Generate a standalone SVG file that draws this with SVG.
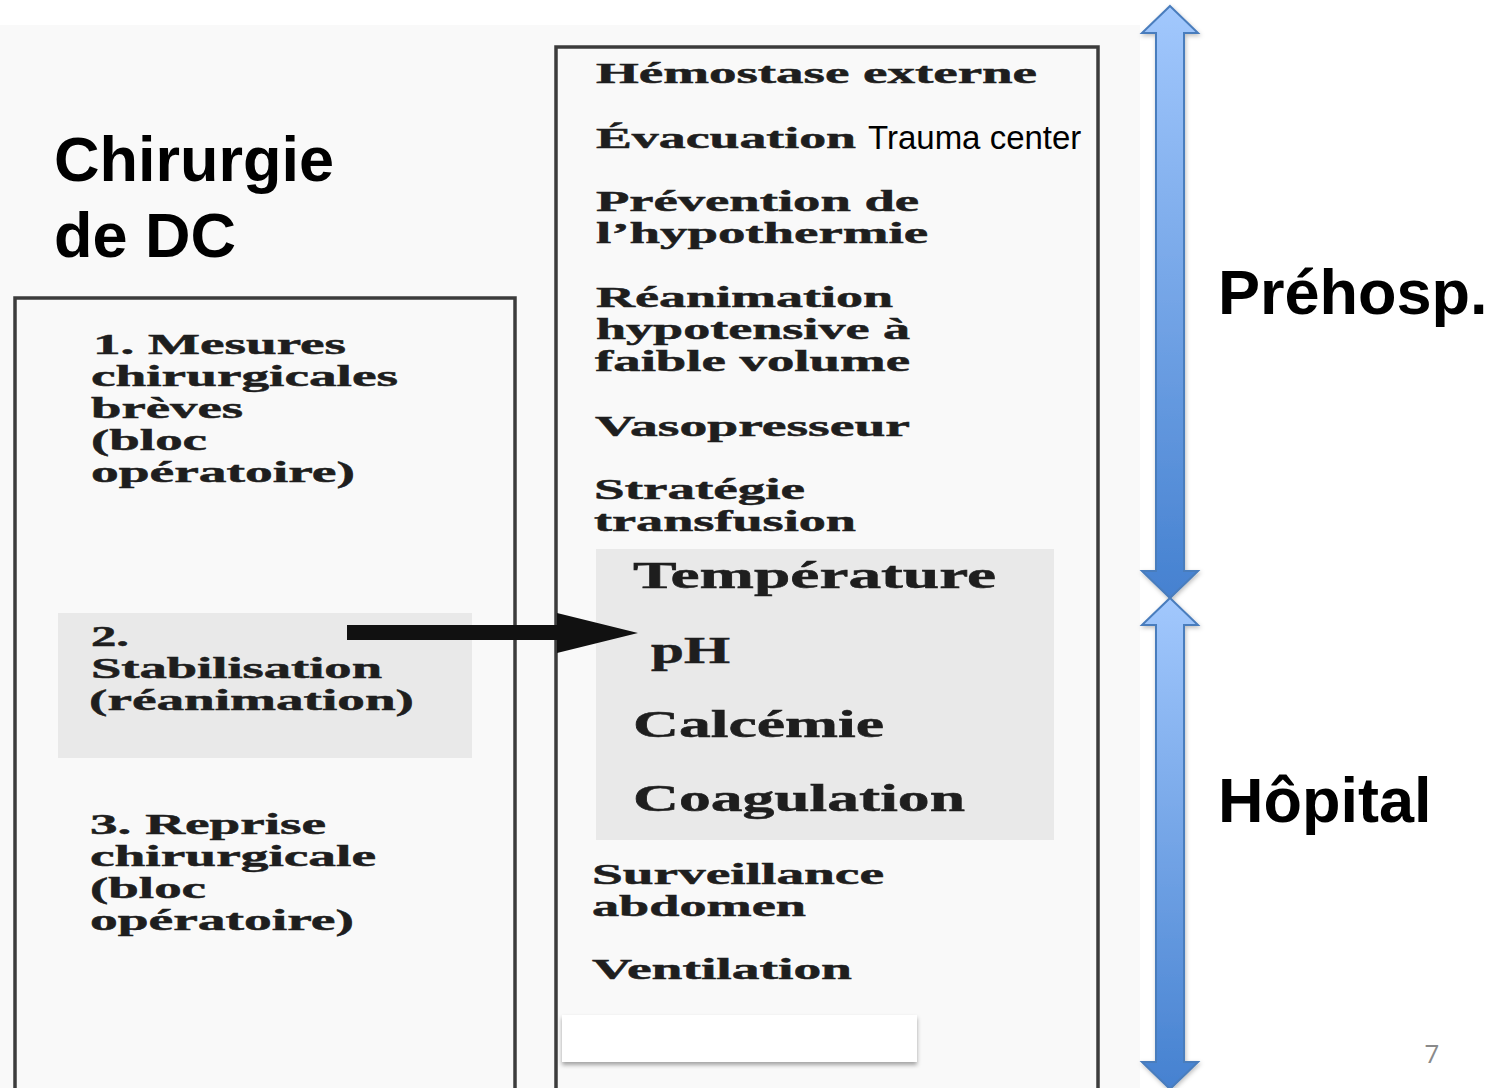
<svg xmlns="http://www.w3.org/2000/svg" width="1502" height="1088" viewBox="0 0 1502 1088">
<style>
.title{font-family:"Liberation Sans",Arial,sans-serif;font-weight:bold;font-size:63px;fill:#000}
.sans{font-family:"Liberation Sans",Arial,sans-serif;font-size:33px;fill:#000}
.s{font-family:"Liberation Serif","Times New Roman",serif;font-weight:bold;font-size:30px;fill:#1e1e1e;stroke:#1e1e1e;stroke-width:0.5}
.b{font-family:"Liberation Serif","Times New Roman",serif;font-weight:bold;font-size:37px;fill:#1e1e1e;stroke:#1e1e1e;stroke-width:0.5}
.box{fill:none;stroke:#3c3c3c;stroke-width:3.5}
.shade{fill:#e9e9e9}
.blue{stroke:#4a7dbd;stroke-width:2;fill:url(#g)}
.pg{font-family:"Open Sans","Liberation Sans",sans-serif;font-size:26px;fill:#8a8a8a}
</style>
<defs>
<linearGradient id="g" x1="0" y1="0" x2="0" y2="1">
<stop offset="0" stop-color="#a2c8fd"/>
<stop offset="1" stop-color="#4581d0"/>
</linearGradient>
<filter id="sh" x="-10%" y="-10%" width="120%" height="130%">
<feDropShadow dx="0" dy="3" stdDeviation="2" flood-color="#000" flood-opacity="0.35"/>
</filter>
<filter id="sh2" x="-30%" y="-5%" width="160%" height="110%">
<feDropShadow dx="1" dy="2" stdDeviation="2" flood-color="#000" flood-opacity="0.25"/>
</filter>
</defs>
<rect width="1502" height="1088" fill="#fff"/>
<rect x="0" y="25" width="1140" height="1063" fill="#f9f9f9"/>

<g id="titre">
<text class="title" x="54" y="181">Chirurgie</text>
<text class="title" x="54" y="257">de DC</text>
</g>

<g id="etapes">
<rect class="box" x="15" y="298" width="500" height="800"/>
<rect class="shade" x="58" y="613" width="414" height="145"/>
<g id="etape1">
<text class="s" x="93" y="354" textLength="253" lengthAdjust="spacingAndGlyphs">1. Mesures</text>
<text class="s" x="91" y="386" textLength="307" lengthAdjust="spacingAndGlyphs">chirurgicales</text>
<text class="s" x="91" y="418" textLength="152" lengthAdjust="spacingAndGlyphs">brèves</text>
<text class="s" x="91" y="450" textLength="116" lengthAdjust="spacingAndGlyphs">(bloc</text>
<text class="s" x="91" y="482" textLength="264" lengthAdjust="spacingAndGlyphs">opératoire)</text>
</g>
<g id="etape2">
<text class="s" x="91" y="646" textLength="38" lengthAdjust="spacingAndGlyphs">2.</text>
<text class="s" x="91" y="678" textLength="291" lengthAdjust="spacingAndGlyphs">Stabilisation</text>
<text class="s" x="89" y="710" textLength="325" lengthAdjust="spacingAndGlyphs">(réanimation)</text>
</g>
<g id="etape3">
<text class="s" x="90" y="834" textLength="236" lengthAdjust="spacingAndGlyphs">3. Reprise</text>
<text class="s" x="90" y="866" textLength="286" lengthAdjust="spacingAndGlyphs">chirurgicale</text>
<text class="s" x="90" y="898" textLength="116" lengthAdjust="spacingAndGlyphs">(bloc</text>
<text class="s" x="90" y="930" textLength="264" lengthAdjust="spacingAndGlyphs">opératoire)</text>
</g>
</g>

<g id="mesures">
<rect class="box" x="556" y="47" width="542" height="1060"/>
<rect class="shade" x="596" y="549" width="458" height="291"/>
<text class="s" x="596" y="83" textLength="441" lengthAdjust="spacingAndGlyphs">Hémostase externe</text>
<text class="s" x="596" y="148" textLength="260" lengthAdjust="spacingAndGlyphs">Évacuation</text>
<text class="sans" x="868" y="149">Trauma center</text>
<text class="s" x="596" y="211" textLength="323" lengthAdjust="spacingAndGlyphs">Prévention de</text>
<text class="s" x="596" y="243" textLength="332" lengthAdjust="spacingAndGlyphs">l’hypothermie</text>
<text class="s" x="596" y="307" textLength="297" lengthAdjust="spacingAndGlyphs">Réanimation</text>
<text class="s" x="596" y="339" textLength="314" lengthAdjust="spacingAndGlyphs">hypotensive à</text>
<text class="s" x="595" y="371" textLength="315" lengthAdjust="spacingAndGlyphs">faible volume</text>
<text class="s" x="595" y="436" textLength="315" lengthAdjust="spacingAndGlyphs">Vasopresseur</text>
<text class="s" x="594" y="499" textLength="211" lengthAdjust="spacingAndGlyphs">Stratégie</text>
<text class="s" x="594" y="531" textLength="262" lengthAdjust="spacingAndGlyphs">transfusion</text>
<text class="b" x="633" y="588" textLength="363" lengthAdjust="spacingAndGlyphs">Température</text>
<text class="b" x="651" y="663" textLength="79" lengthAdjust="spacingAndGlyphs">pH</text>
<text class="b" x="633" y="737" textLength="251" lengthAdjust="spacingAndGlyphs">Calcémie</text>
<text class="b" x="633" y="811" textLength="332" lengthAdjust="spacingAndGlyphs">Coagulation</text>
<text class="s" x="592" y="884" textLength="292" lengthAdjust="spacingAndGlyphs">Surveillance</text>
<text class="s" x="592" y="916" textLength="214" lengthAdjust="spacingAndGlyphs">abdomen</text>
<text class="s" x="592" y="979" textLength="260" lengthAdjust="spacingAndGlyphs">Ventilation</text>
<rect x="562" y="1015" width="355" height="47" fill="#fff" filter="url(#sh)"/>
</g>

<g id="connecteurs">
<path d="M347,625 H557 V613 L638,633 L557,653 V640 H347 Z" fill="#111"/>
</g>

<g id="phases">
<g id="prehosp">
<polygon class="blue" filter="url(#sh2)" points="1170,6 1198,33 1184,33 1184,571 1198,571 1170,598 1142,571 1156,571 1156,33 1142,33"/>
<text class="title" x="1218" y="314">Préhosp.</text>
</g>
<g id="hopital">
<polygon class="blue" filter="url(#sh2)" points="1170,598 1198,625 1184,625 1184,1062 1198,1062 1170,1089 1142,1062 1156,1062 1156,625 1142,625"/>
<text class="title" x="1218" y="822">Hôpital</text>
</g>
</g>

<text class="pg" x="1432" y="1063" text-anchor="middle">7</text>
</svg>
